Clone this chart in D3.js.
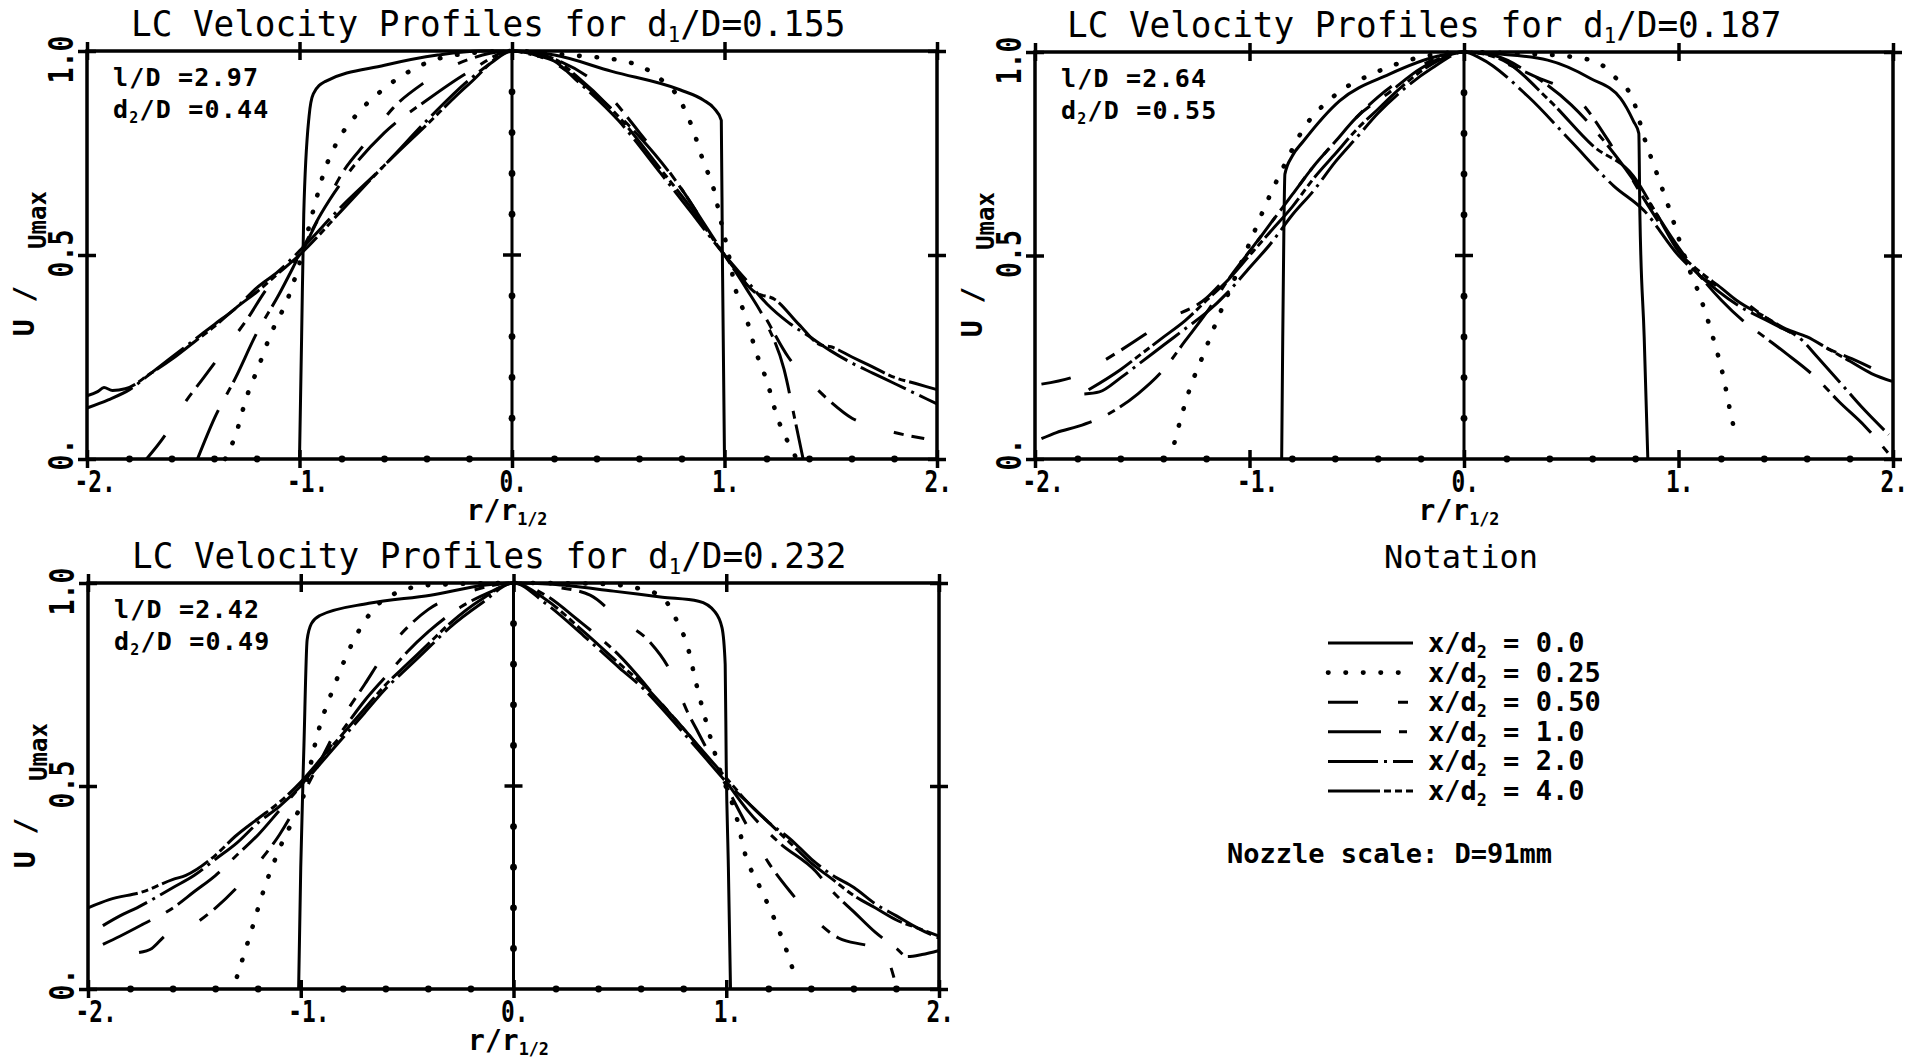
<!DOCTYPE html>
<html>
<head>
<meta charset="utf-8">
<script src="https://cdn.jsdelivr.net/npm/d3@7"></script>
<style>
  html, body { margin: 0; padding: 0; background: #fff; }
  svg { display: block; }
</style>
</head>
<body>
<svg id="fig" width="1917" height="1062"></svg>
<script>
// ---------------------------------------------------------------------------
// Data: normalised velocity profiles U/Umax against r/r1/2
// ---------------------------------------------------------------------------
const stations = ["0.0", "0.25", "0.50", "1.0", "2.0", "4.0"];   // x/d2
const d1OverD = ["0.155", "0.187", "0.232"];
const lOverD = ["2.97", "2.64", "2.42"];
const d2OverD = ["0.44", "0.55", "0.49"];
const xTicks = [-2, -1, 0, 1, 2];
const xTickLabels = ["-2.", "-1.", "0.", "1.", "2."];
const yTicks = [0, 0.5, 1];
const yTickLabels = ["0.", "0.5", "1.0"];

// d1/D = 0.155
const p155_x00 = [[-1.0,0],[-0.99,0.3],[-0.98,0.6],[-0.955,0.84],[-0.935,0.895],[-0.88,0.925],[-0.6,0.965],[-0.35,0.99],[-0.15,1.0],[0,1.0],[0.2,0.99],[0.47,0.95],[0.79,0.905],[0.9,0.88],[0.95,0.86],[0.985,0.83],[0.99,0.5],[1.0,0]];
const p155_x025 = [[-1.35,0],[-1.3,0.06],[-1.25,0.15],[-1.19,0.23],[-1.14,0.3],[-1.05,0.4],[-1.0,0.48],[-0.94,0.6],[-0.88,0.71],[-0.83,0.77],[-0.73,0.845],[-0.62,0.9],[-0.5,0.945],[-0.27,0.99],[0,1],[0.27,0.99],[0.53,0.975],[0.69,0.935],[0.79,0.88],[0.85,0.81],[0.9,0.73],[0.95,0.66],[0.98,0.59],[1.02,0.5],[1.05,0.42],[1.1,0.35],[1.15,0.26],[1.2,0.19],[1.25,0.1],[1.3,0.04],[1.34,0]];
const p155_x050 = [[-1.72,0],[-1.63,0.06],[-1.55,0.13],[-1.45,0.2],[-1.35,0.27],[-1.25,0.34],[-1.15,0.42],[-1.0,0.5],[-0.9,0.6],[-0.8,0.7],[-0.68,0.78],[-0.56,0.86],[-0.42,0.92],[-0.2,0.98],[0,1],[0.2,0.98],[0.42,0.91],[0.6,0.8],[0.8,0.66],[1.0,0.5],[1.1,0.43],[1.2,0.34],[1.3,0.25],[1.4,0.19],[1.5,0.14],[1.6,0.1],[1.7,0.08],[1.8,0.065],[1.94,0.05]];
const p155_x10 = [[-1.48,0],[-1.4,0.1],[-1.3,0.2],[-1.2,0.31],[-1.1,0.4],[-1.0,0.5],[-0.9,0.6],[-0.8,0.68],[-0.6,0.8],[-0.4,0.88],[-0.2,0.95],[0,1],[0.2,0.97],[0.4,0.89],[0.6,0.79],[0.8,0.66],[0.9,0.58],[1.0,0.5],[1.1,0.42],[1.2,0.33],[1.28,0.22],[1.33,0.1],[1.37,0]];
const p155_x20 = [[-2,0.125],[-1.9,0.145],[-1.8,0.17],[-1.7,0.21],[-1.6,0.25],[-1.5,0.29],[-1.4,0.33],[-1.3,0.37],[-1.2,0.42],[-1.1,0.46],[-1.0,0.51],[-0.8,0.62],[-0.6,0.72],[-0.4,0.83],[-0.2,0.93],[-0.1,0.97],[0,1],[0.1,0.99],[0.2,0.975],[0.3,0.93],[0.5,0.83],[0.7,0.7],[0.85,0.6],[1.0,0.5],[1.1,0.44],[1.2,0.38],[1.3,0.335],[1.4,0.3],[1.5,0.265],[1.6,0.235],[1.7,0.21],[1.8,0.185],[1.9,0.16],[2.0,0.135]];
const p155_x40 = [[-2,0.155],[-1.95,0.165],[-1.92,0.175],[-1.88,0.168],[-1.82,0.172],[-1.7,0.21],[-1.6,0.245],[-1.5,0.285],[-1.4,0.325],[-1.3,0.37],[-1.2,0.41],[-1.1,0.455],[-1.0,0.5],[-0.8,0.61],[-0.6,0.72],[-0.4,0.82],[-0.2,0.92],[0,1],[0.2,0.98],[0.3,0.94],[0.5,0.84],[0.7,0.71],[0.85,0.61],[1.0,0.5],[1.14,0.41],[1.24,0.39],[1.35,0.33],[1.45,0.28],[1.5,0.275],[1.6,0.25],[1.68,0.23],[1.8,0.2],[1.9,0.185],[2.0,0.17]];

// d1/D = 0.187
const p187_x00 = [[-0.85,0],[-0.845,0.3],[-0.84,0.55],[-0.835,0.7],[-0.8,0.745],[-0.75,0.78],[-0.58,0.88],[-0.35,0.945],[-0.12,0.99],[0,1],[0.16,0.995],[0.39,0.98],[0.59,0.935],[0.73,0.886],[0.79,0.83],[0.815,0.8],[0.82,0.6],[0.84,0.3],[0.857,0]];
const p187_x025 = [[-1.35,0.04],[-1.32,0.1],[-1.28,0.17],[-1.22,0.25],[-1.16,0.33],[-1.08,0.43],[-1.0,0.53],[-0.92,0.63],[-0.83,0.73],[-0.75,0.81],[-0.61,0.89],[-0.41,0.95],[-0.18,0.99],[0,1],[0.22,0.997],[0.47,0.99],[0.62,0.975],[0.7,0.94],[0.79,0.88],[0.84,0.79],[0.9,0.7],[0.96,0.61],[1.04,0.48],[1.1,0.4],[1.16,0.3],[1.21,0.2],[1.24,0.12],[1.27,0.05]];
const p187_x050 = [[-1.97,0.184],[-1.77,0.213],[-1.69,0.238],[-1.49,0.305],[-1.4,0.338],[-1.2,0.396],[-1.13,0.433],[-1.0,0.51],[-0.9,0.58],[-0.8,0.65],[-0.7,0.72],[-0.6,0.78],[-0.5,0.84],[-0.4,0.89],[-0.3,0.93],[-0.15,0.98],[0,1],[0.15,0.98],[0.33,0.94],[0.53,0.885],[0.7,0.76],[0.85,0.63],[1.0,0.51],[1.1,0.45],[1.2,0.42],[1.27,0.4],[1.4,0.35],[1.5,0.317],[1.61,0.292],[1.7,0.27],[1.81,0.246],[2.0,0.197]];
const p187_x10 = [[-1.97,0.05],[-1.9,0.065],[-1.8,0.08],[-1.66,0.11],[-1.52,0.16],[-1.4,0.22],[-1.3,0.29],[-1.2,0.36],[-1.1,0.44],[-1.0,0.51],[-0.9,0.58],[-0.8,0.65],[-0.7,0.72],[-0.6,0.78],[-0.5,0.84],[-0.35,0.9],[-0.2,0.96],[0,1],[0.15,0.99],[0.3,0.95],[0.5,0.87],[0.7,0.75],[0.85,0.64],[1.0,0.52],[1.1,0.45],[1.2,0.39],[1.3,0.34],[1.4,0.3],[1.5,0.26],[1.64,0.2],[1.75,0.14],[1.87,0.08],[2.0,0]];
const p187_x20 = [[-1.77,0.16],[-1.7,0.165],[-1.6,0.2],[-1.5,0.24],[-1.4,0.28],[-1.3,0.32],[-1.2,0.36],[-1.1,0.41],[-1.0,0.47],[-0.9,0.53],[-0.8,0.6],[-0.7,0.66],[-0.6,0.73],[-0.5,0.79],[-0.4,0.85],[-0.3,0.9],[-0.15,0.96],[0,1],[0.075,0.985],[0.3,0.89],[0.5,0.78],[0.7,0.67],[0.84,0.61],[1.0,0.5],[1.1,0.45],[1.27,0.38],[1.45,0.33],[1.58,0.29],[1.64,0.255],[1.75,0.19],[1.85,0.13],[1.98,0.06]];
const p187_x40 = [[-1.75,0.17],[-1.6,0.22],[-1.5,0.26],[-1.4,0.3],[-1.3,0.34],[-1.2,0.39],[-1.1,0.44],[-1.0,0.5],[-0.9,0.56],[-0.8,0.62],[-0.7,0.69],[-0.6,0.75],[-0.5,0.81],[-0.4,0.86],[-0.3,0.91],[-0.15,0.97],[0,1],[0.16,0.985],[0.4,0.88],[0.6,0.77],[0.79,0.695],[0.9,0.6],[1.0,0.51],[1.1,0.46],[1.2,0.42],[1.27,0.39],[1.4,0.35],[1.5,0.32],[1.6,0.3],[1.7,0.27],[1.8,0.24],[1.9,0.21],[2.0,0.19]];

// d1/D = 0.232
const p232_x00 = [[-1.01,0],[-1.0,0.3],[-0.985,0.6],[-0.97,0.86],[-0.95,0.9],[-0.91,0.92],[-0.68,0.95],[-0.39,0.97],[-0.13,0.995],[0,1],[0.18,0.997],[0.47,0.98],[0.7,0.965],[0.87,0.955],[0.945,0.93],[0.98,0.89],[0.995,0.8],[1.0,0.55],[1.01,0.3],[1.02,0]];
const p232_x025 = [[-1.3,0.03],[-1.24,0.13],[-1.17,0.25],[-1.08,0.37],[-0.99,0.47],[-0.92,0.63],[-0.84,0.75],[-0.75,0.86],[-0.65,0.94],[-0.53,0.98],[-0.39,0.995],[0,1],[0.41,0.998],[0.6,0.985],[0.7,0.965],[0.76,0.915],[0.82,0.84],[0.86,0.75],[0.92,0.63],[0.97,0.54],[1.05,0.42],[1.09,0.33],[1.15,0.26],[1.22,0.18],[1.28,0.1],[1.33,0.02]];
const p232_x050 = [[-1.76,0.09],[-1.7,0.1],[-1.64,0.13],[-1.5,0.16],[-1.4,0.2],[-1.3,0.25],[-1.2,0.31],[-1.1,0.38],[-1.0,0.47],[-0.9,0.57],[-0.8,0.67],[-0.7,0.75],[-0.6,0.83],[-0.5,0.89],[-0.4,0.935],[-0.2,0.98],[0,1],[0.2,0.99],[0.36,0.97],[0.5,0.91],[0.64,0.855],[0.73,0.79],[0.82,0.68],[0.87,0.63],[1.0,0.5],[1.1,0.4],[1.2,0.31],[1.3,0.24],[1.4,0.18],[1.53,0.125],[1.64,0.11],[1.74,0.1],[1.77,0.06],[1.79,0.025]];
const p232_x10 = [[-1.93,0.11],[-1.85,0.13],[-1.74,0.16],[-1.6,0.2],[-1.5,0.24],[-1.4,0.28],[-1.3,0.33],[-1.2,0.38],[-1.1,0.44],[-1.0,0.5],[-0.9,0.57],[-0.8,0.64],[-0.7,0.71],[-0.6,0.77],[-0.5,0.83],[-0.4,0.88],[-0.25,0.94],[-0.1,0.98],[0,1],[0.15,0.97],[0.3,0.91],[0.5,0.82],[0.7,0.7],[0.85,0.61],[1.0,0.51],[1.1,0.44],[1.25,0.36],[1.42,0.29],[1.5,0.24],[1.6,0.19],[1.7,0.14],[1.8,0.1],[1.85,0.08],[1.92,0.085],[2.0,0.095]];
const p232_x20 = [[-1.93,0.156],[-1.85,0.18],[-1.77,0.2],[-1.6,0.25],[-1.5,0.28],[-1.4,0.32],[-1.3,0.36],[-1.2,0.41],[-1.1,0.45],[-1.0,0.5],[-0.9,0.56],[-0.8,0.62],[-0.7,0.68],[-0.6,0.74],[-0.5,0.79],[-0.4,0.84],[-0.3,0.89],[-0.15,0.95],[0,1],[0.15,0.95],[0.33,0.87],[0.5,0.79],[0.61,0.74],[0.75,0.66],[0.9,0.57],[1.0,0.51],[1.1,0.46],[1.2,0.41],[1.3,0.37],[1.4,0.32],[1.5,0.28],[1.6,0.25],[1.7,0.21],[1.8,0.18],[1.9,0.15],[2.0,0.125]];
const p232_x40 = [[-2,0.2],[-1.9,0.22],[-1.74,0.24],[-1.6,0.27],[-1.54,0.28],[-1.4,0.33],[-1.31,0.375],[-1.2,0.42],[-1.1,0.46],[-1.0,0.51],[-0.9,0.57],[-0.8,0.63],[-0.7,0.69],[-0.6,0.75],[-0.5,0.8],[-0.4,0.85],[-0.3,0.9],[-0.15,0.96],[0,1],[0.15,0.96],[0.33,0.88],[0.5,0.8],[0.61,0.75],[0.75,0.67],[0.9,0.58],[1.0,0.52],[1.1,0.46],[1.2,0.41],[1.3,0.36],[1.4,0.31],[1.5,0.27],[1.6,0.23],[1.7,0.2],[1.8,0.17],[1.9,0.15],[2.0,0.13]];

const profileSets = [
  [p155_x00, p155_x025, p155_x050, p155_x10, p155_x20, p155_x40],
  [p187_x00, p187_x025, p187_x050, p187_x10, p187_x20, p187_x40],
  [p232_x00, p232_x025, p232_x050, p232_x10, p232_x20, p232_x40]
];

// ---------------------------------------------------------------------------
// Drawing
// ---------------------------------------------------------------------------
const FONT = "'DejaVu Sans Mono', 'Liberation Mono', monospace";
const INK = "#000";
const svg = d3.select("#fig");

// pen styles, one per station (solid, dotted, dashed variants, dash-dot, dash-dot-dot)
const pens = [
  { dash: null,             width: 3,   cap: "butt" },
  { dash: "0.5,17",         width: 4.6, cap: "round" },
  { dash: "30,40,10,8",     width: 3,   cap: "butt" },
  { dash: "53,18,8,6",      width: 3,   cap: "butt" },
  { dash: "50,6,3,6",       width: 3,   cap: "butt" },
  { dash: "52,4,7,4,7,4",   width: 3,   cap: "butt" }
];

function applyPen(sel, pen) {
  sel.attr("fill", "none").attr("stroke", INK)
     .attr("stroke-width", pen.width)
     .attr("stroke-linecap", pen.cap)
     .attr("stroke-linejoin", "round");
  if (pen.dash) sel.attr("stroke-dasharray", pen.dash);
  return sel;
}

// text with optional horizontal squeeze and rotation; build() fills tspans
function label(parent, x, y, opt, build) {
  const o = Object.assign({ size: 27, weight: "bold", anchor: "start", sx: 1, rotate: 0, spacing: 0 }, opt);
  const g = parent.append("g")
    .attr("transform", `translate(${x},${y}) rotate(${o.rotate}) scale(${o.sx},1)`);
  const t = g.append("text")
    .attr("font-family", FONT).attr("font-size", o.size)
    .attr("font-weight", o.weight).attr("text-anchor", o.anchor)
    .attr("letter-spacing", o.spacing)
    .attr("fill", INK);
  if (typeof build === "string") t.text(build); else build(t, o.size);
  return t;
}

function withSub(t, size, before, sub, after, subScale = 0.6, drop = 6) {
  t.append("tspan").text(before);
  t.append("tspan").attr("font-size", size * subScale).attr("dy", drop).text(sub);
  if (after) t.append("tspan").attr("dy", -drop).text(after);
}

const frames = [
  { L: 87,   R: 937,  T: 51,  B: 459, titleDx: 44 },
  { L: 1035, R: 1893, T: 52,  B: 459, titleDx: 32 },
  { L: 88,   R: 939,  T: 583, B: 989, titleDx: 44 }
];

frames.forEach((f, k) => {
  const x = d3.scaleLinear().domain([-2, 2]).range([f.L, f.R]);
  const y = d3.scaleLinear().domain([0, 1]).range([f.B, f.T]);
  const g = svg.append("g");

  // profiles
  const line = d3.line().x(d => x(d[0])).y(d => y(d[1])).curve(d3.curveMonotoneX);
  profileSets[k].forEach((pts, i) => {
    applyPen(g.append("path").attr("d", line(pts)), pens[i]);
  });

  // frame and centre line
  g.append("rect").attr("x", f.L).attr("y", f.T)
    .attr("width", f.R - f.L).attr("height", f.B - f.T)
    .attr("fill", "none").attr("stroke", INK).attr("stroke-width", 3.5);
  g.append("line").attr("x1", x(0)).attr("x2", x(0)).attr("y1", y(0)).attr("y2", y(1))
    .attr("stroke", INK).attr("stroke-width", 3);

  // bottom axis with labels
  const gx = g.append("g").attr("transform", `translate(0,${f.B})`)
    .call(d3.axisBottom(x).tickValues(xTicks).tickFormat((d, i) => xTickLabels[i])
      .tickSizeInner(9).tickSizeOuter(0))
    .attr("font-family", FONT).attr("font-size", 30).attr("font-weight", "bold");
  gx.select(".domain").remove();
  gx.selectAll(".tick line").attr("y1", -9).attr("y2", 9).attr("stroke", INK).attr("stroke-width", 3.5);
  gx.selectAll(".tick text").attr("x", 0).attr("y", 0).attr("dy", 0)
    .attr("fill", INK).attr("text-anchor", "start")
    .attr("transform", "translate(-13,33) scale(0.76,1)");

  // top axis (ticks only)
  const gt = g.append("g").attr("transform", `translate(0,${f.T})`)
    .call(d3.axisTop(x).tickValues(xTicks).tickFormat(() => "").tickSizeInner(9).tickSizeOuter(0));
  gt.select(".domain").remove();
  gt.selectAll(".tick line").attr("y1", -9).attr("y2", 9).attr("stroke", INK).attr("stroke-width", 3.5);

  // left axis with rotated labels
  const gy = g.append("g").attr("transform", `translate(${f.L},0)`)
    .call(d3.axisLeft(y).tickValues(yTicks).tickFormat((d, i) => yTickLabels[i])
      .tickSizeInner(9).tickSizeOuter(0))
    .attr("font-family", FONT).attr("font-size", 34).attr("font-weight", "bold");
  gy.select(".domain").remove();
  gy.selectAll(".tick line").attr("x1", -9).attr("x2", 9).attr("stroke", INK).attr("stroke-width", 3.5);
  gy.selectAll(".tick text").attr("x", 0).attr("y", 0).attr("dy", 0)
    .attr("fill", INK).attr("text-anchor", "middle")
    .attr("transform", d => `translate(-14,${d === 1 ? 8 : d === 0 ? -5 : -2}) rotate(-90) scale(0.78,1)`);

  // right axis (ticks only)
  const gr = g.append("g").attr("transform", `translate(${f.R},0)`)
    .call(d3.axisRight(y).tickValues(yTicks).tickFormat(() => "").tickSizeInner(9).tickSizeOuter(0));
  gr.select(".domain").remove();
  gr.selectAll(".tick line").attr("x1", -9).attr("x2", 9).attr("stroke", INK).attr("stroke-width", 3.5);

  // minor marks: dots along the base line and the centre line
  g.selectAll(null).data(x.ticks(20).filter(v => !xTicks.includes(v)))
    .join("circle").attr("cx", d => x(d)).attr("cy", f.B).attr("r", 3.4).attr("fill", INK);
  g.selectAll(null).data(y.ticks(10).filter(v => !yTicks.includes(v)))
    .join("circle").attr("cx", x(0)).attr("cy", d => y(d)).attr("r", 3.4).attr("fill", INK);
  g.append("line").attr("x1", x(0) - 9).attr("x2", x(0) + 9).attr("y1", y(0.5)).attr("y2", y(0.5))
    .attr("stroke", INK).attr("stroke-width", 3.5);

  // title
  label(g, f.L + f.titleDx, f.T - 15, { size: 35, weight: "normal", sx: 0.98 },
    (t, s) => withSub(t, s, "LC Velocity Profiles for d", "1", "/D=" + d1OverD[k], 0.6, 6));

  // geometry notes
  label(g, f.L + 26, f.T + 35, { size: 25, spacing: 1.2 }, `l/D =${lOverD[k]}`);
  label(g, f.L + 26, f.T + 67, { size: 25, spacing: 1.2 },
    (t, s) => withSub(t, s, "d", "2", `/D =${d2OverD[k]}`, 0.6, 5));

  // axis titles
  label(g, (f.L + f.R) / 2 - 5, f.B + 61, { size: 28, anchor: "middle" },
    (t, s) => withSub(t, s, "r/r", "1/2", "", 0.6, 5));
  label(g, f.L - 53, f.T + 260, { size: 28, anchor: "middle", rotate: -90 }, "U /");
  label(g, f.L - 41, f.T + 169, { size: 24, anchor: "middle", rotate: -90 }, "Umax");
});

// ---------------------------------------------------------------------------
// Notation block
// ---------------------------------------------------------------------------
const legend = svg.append("g");
label(legend, 1461, 568, { size: 32, weight: "normal", anchor: "middle" }, "Notation");
const rowY = d3.scalePoint().domain(stations).range([652, 800]);
stations.forEach((s, i) => {
  applyPen(legend.append("line")
    .attr("x1", 1328).attr("x2", 1413)
    .attr("y1", rowY(s) - 9).attr("y2", rowY(s) - 9), pens[i]);
  label(legend, 1428, rowY(s), { size: 27 },
    (t, sz) => withSub(t, sz, "x/d", "2", " = " + s, 0.62, 6));
});
label(legend, 1227, 863, { size: 27 }, "Nozzle scale: D=91mm");
</script>
</body>
</html>
